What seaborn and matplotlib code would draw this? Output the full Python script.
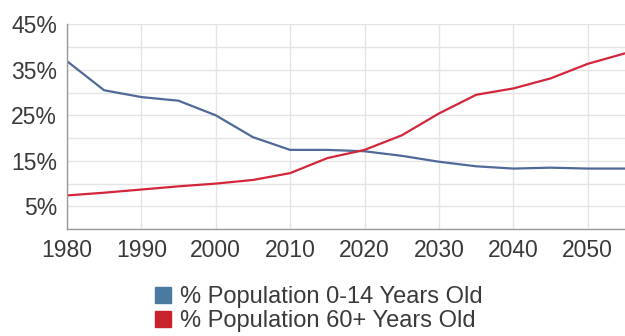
import matplotlib as mpl
import seaborn as sns
import pandas as pd
import numpy as np

plt = mpl.pyplot
mpl.use("Agg")

years = [1980, 1985, 1990, 1995, 2000, 2005, 2010, 2015, 2020, 2025,
         2030, 2035, 2040, 2045, 2050, 2055]
young = [36.9, 30.5, 29.0, 28.2, 25.0, 20.2, 17.4, 17.4, 17.1, 16.1,
         14.8, 13.8, 13.3, 13.5, 13.3, 13.3]
old = [7.4, 8.0, 8.7, 9.4, 10.0, 10.8, 12.3, 15.6, 17.4, 20.6,
       25.4, 29.5, 30.9, 33.1, 36.3, 38.6]
yticks = [5, 15, 25, 35, 45]
xticks = [1980, 1990, 2000, 2010, 2020, 2030, 2040, 2050]

LBL_Y = '% Population 0-14 Years Old'
LBL_O = '% Population 60+ Years Old'

data = pd.DataFrame({
    'Year': years * 2,
    'Pct': young + old,
    'Group': [LBL_Y] * len(years) + [LBL_O] * len(years),
})

sns.set_style("white")
mpl.rcParams['font.family'] = ['Liberation Sans', 'DejaVu Sans']
mpl.rcParams['font.size'] = 17

fig = plt.figure(figsize=(6.25, 3.36), dpi=100)
ax = fig.add_axes([0.107, 0.318, 0.893, 0.61])

palette = {LBL_Y: '#4f6a98', LBL_O: '#d3263a'}
sns.lineplot(x='Year', y='Pct', hue='Group', data=data, palette=palette,
             linewidth=1.6, ax=ax, legend=False)

ax.set_xlim(1980, 2055)
ax.set_ylim(0, 45)
ax.set_xticks(xticks)
ax.set_yticks(yticks)
ax.set_yticks(np.arange(0, 46, 5), minor=True)
ax.set_yticklabels([f'{v}%' for v in yticks])
ax.grid(True, which='both', color='#e4e4e4', linewidth=1.0)
ax.set_axisbelow(True)
ax.set_xlabel('')
ax.set_ylabel('')
for s in ['top', 'right']:
    ax.spines[s].set_visible(False)
for s in ['left', 'bottom']:
    ax.spines[s].set_color('#999999')
    ax.spines[s].set_linewidth(1.0)
ax.tick_params(axis='both', which='major', length=5, color='#999999',
               labelsize=16.5, labelcolor='#3a3a3a', direction='out')
ax.tick_params(axis='y', which='minor', length=0)
ax.tick_params(axis='x', pad=2)
ax.tick_params(axis='y', pad=2)

handles = [
    mpl.lines.Line2D([], [], marker='s', linestyle='', markersize=11,
                     color='#4a7a9f', label=LBL_Y),
    mpl.lines.Line2D([], [], marker='s', linestyle='', markersize=11,
                     color='#c8232d', label=LBL_O),
]
fig.legend(handles=handles, loc='center', bbox_to_anchor=(0.507, 0.08),
           frameon=False, fontsize=17, handletextpad=0.2, labelspacing=0.08,
           handlelength=1.0, labelcolor='#3a3a3a', borderpad=0.1)

plt.savefig('out.png', dpi=100)
